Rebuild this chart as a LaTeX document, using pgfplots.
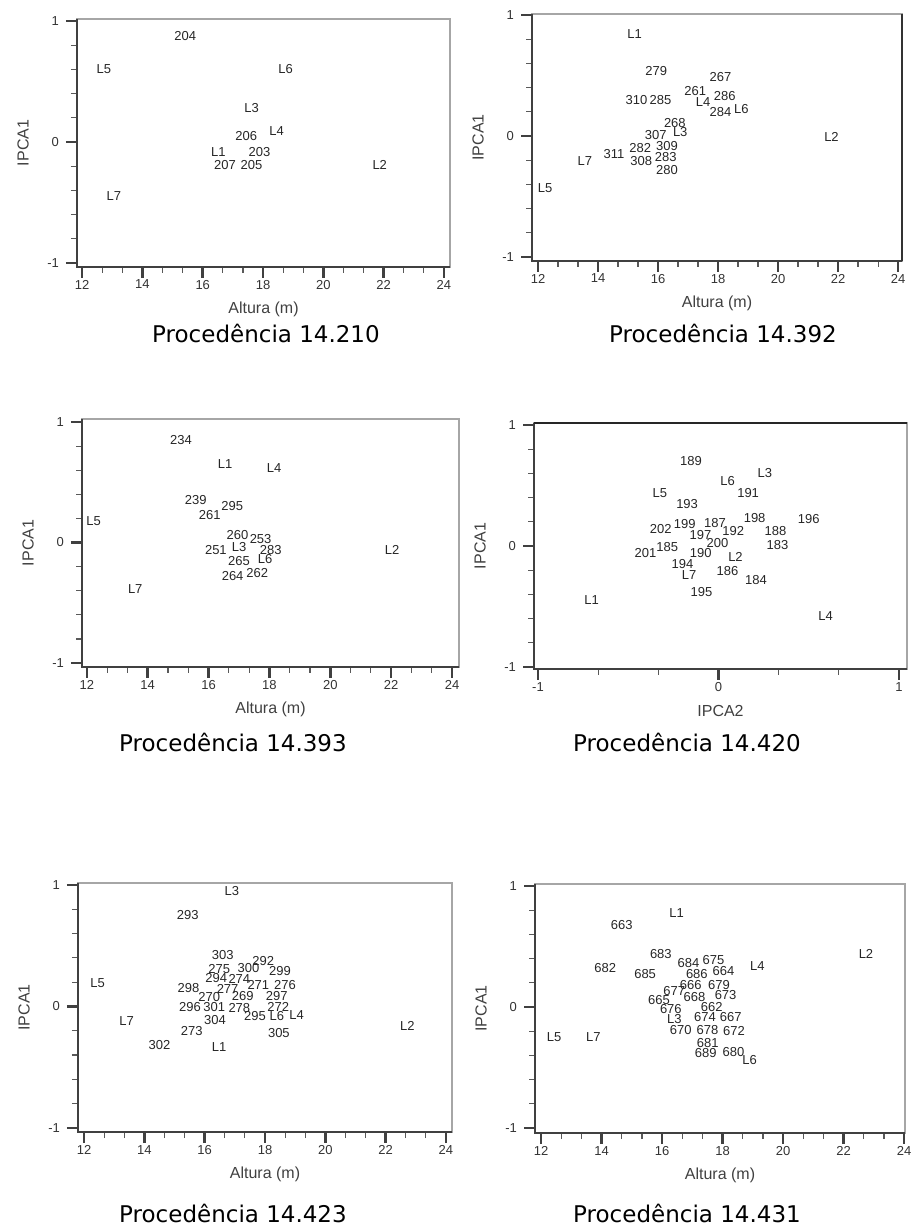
\documentclass[border=0pt]{standalone}
\usepackage{fontspec}
\setmainfont{Liberation Sans}
\newfontfamily\titlefont{DejaVu Sans}
\usepackage{pgfplots}
\pgfplotsset{compat=1.18}

% one panel = one axis, label-only scatter (no marks)
\pgfplotsset{
  panel/.style={
    scale only axis, anchor=south west,
    xmin=11.8, xmax=24.2, ymin=-1.03, ymax=1.02,
    xtick={12,14,...,24}, minor x tick num=2,
    ytick={-1,0,1}, minor y tick num=4,
    tick align=outside, xtick pos=left, ytick pos=left,
    major tick length=5.5pt, minor tick length=3pt,
    every major tick/.append style={line width=1.3pt, black!75},
    every minor tick/.append style={line width=0.6pt, black!65},
    axis line style={gray!70, line width=0.7pt},
    tick label style={font=\fontsize{6.5}{7}\selectfont, text=black!80},
    xticklabel style={yshift=2.5pt},
    /pgf/number format/assume math mode=true,
    xlabel={Altura (m)}, ylabel={IPCA1},
    every axis x label/.style={at={([yshift=-21pt]axis description cs:0.5,0)}, anchor=center,
      font=\fontsize{8}{9}\selectfont, text=black!75},
    every axis y label/.style={at={([xshift=-27pt]axis description cs:0,0.5)}, anchor=center, rotate=90,
      font=\fontsize{8}{9}\selectfont, text=black!75},
    extra description/.code={\draw[black!75, line width=1pt] (0,1)--(0,0)--(1,0);},
  },
  lbl/.style={draw=none, mark=none, nodes near coords, point meta=explicit symbolic,
    every node near coord/.style={anchor=center, font=\fontsize{6.5}{7}\selectfont,
      text=black!85, inner sep=0pt}},
}

\begin{document}
\begin{tikzpicture}
\path[use as bounding box] (0,0) rectangle (455pt,615pt);

% Procedencia 14.210
\begin{axis}[panel, at={(38.5pt,481.5pt)}, width=186.5pt, height=124pt,
  xmin=11.83, xmax=24.2, ymin=-1.033, ymax=1.017]
\addplot[lbl] table[meta=l] {
x y l
15.42 0.88 204
12.72 0.60 L5
18.75 0.60 L6
17.62 0.28 L3
18.45 0.09 L4
17.44 0.05 206
16.52 -0.08 L1
17.88 -0.08 203
16.74 -0.19 207
17.62 -0.19 205
21.87 -0.19 L2
13.05 -0.45 L7
};
\end{axis}
\node[font=\titlefont\fontsize{11.5}{13}\selectfont, anchor=base] at (133pt,443.5pt) {Procedência 14.210};

% Procedencia 14.392
\begin{axis}[panel, at={(266pt,484.5pt)}, width=185pt, height=123.5pt,
  xmin=11.8, xmax=24.13, ymin=-1.033, ymax=1.008,
  extra description/.append code={\draw[black!80, line width=1.2pt] (1,0)--(1,1);}]
\addplot[lbl] table[meta=l] {
x y l
15.22 0.84 L1
15.94 0.54 279
18.08 0.49 267
17.24 0.37 261
18.22 0.33 286
15.28 0.30 310
16.08 0.30 285
17.50 0.28 L4
18.08 0.20 284
18.78 0.22 L6
16.56 0.11 268
15.92 0.01 307
16.74 0.03 L3
16.30 -0.08 309
15.41 -0.10 282
14.53 -0.15 311
16.26 -0.17 283
15.44 -0.21 308
13.56 -0.21 L7
16.30 -0.28 280
21.78 -0.01 L2
12.24 -0.43 L5
};
\end{axis}
\node[font=\titlefont\fontsize{11.5}{13}\selectfont, anchor=base] at (361.5pt,443.5pt) {Procedência 14.392};

% Procedencia 14.393
\begin{axis}[panel, at={(41pt,281.5pt)}, width=188.5pt, height=124pt,
  xmin=11.84, xmax=24.23, ymin=-1.033, ymax=1.025]
\addplot[lbl] table[meta=l] {
x y l
15.09 0.85 234
16.54 0.65 L1
18.15 0.62 L4
15.58 0.35 239
16.78 0.30 295
16.04 0.23 261
12.22 0.18 L5
16.95 0.06 260
17.71 0.03 253
16.24 -0.06 251
17.00 -0.04 L3
18.04 -0.06 283
17.00 -0.15 265
17.86 -0.14 L6
17.60 -0.25 262
16.79 -0.28 264
13.59 -0.39 L7
22.03 -0.06 L2
};
\end{axis}
\node[font=\titlefont\fontsize{11.5}{13}\selectfont, anchor=base] at (116.5pt,239pt) {Procedência 14.393};

% Procedencia 14.420
\begin{axis}[panel, at={(267pt,280.5pt)}, width=186.5pt, height=123pt,
  xmin=-1.022, xmax=1.044, ymin=-1.017, ymax=1.017,
  xtick={-1,0,1}, minor x tick num=2, xlabel={IPCA2},
  extra description/.append code={\draw[black!85, line width=1.3pt] (0,1)--(1,1);}]
\addplot[lbl] table[meta=l] {
x y l
-0.153 0.70 189
0.257 0.60 L3
0.050 0.54 L6
-0.325 0.44 L5
0.164 0.44 191
-0.174 0.35 193
-0.187 0.185 199
-0.020 0.19 187
0.200 0.23 198
0.500 0.22 196
-0.320 0.14 202
0.081 0.12 192
0.316 0.12 188
-0.100 0.09 197
-0.006 0.025 200
0.327 0.005 183
-0.404 -0.06 201
-0.284 -0.01 185
-0.098 -0.055 190
0.094 -0.09 L2
-0.200 -0.15 194
-0.163 -0.24 L7
0.050 -0.21 186
0.207 -0.28 184
-0.094 -0.38 195
-0.703 -0.445 L1
0.593 -0.58 L4
};
\end{axis}
\node[font=\titlefont\fontsize{11.5}{13}\selectfont, anchor=base] at (343.5pt,239pt) {Procedência 14.420};

% Procedencia 14.423
\begin{axis}[panel, at={(39pt,49pt)}, width=187pt, height=124.5pt,
  xmin=11.8, xmax=24.2, ymin=-1.033, ymax=1.016]
\addplot[lbl] table[meta=l] {
x y l
16.90 0.95 L3
15.44 0.75 293
16.60 0.42 303
17.94 0.375 292
16.48 0.31 275
17.45 0.32 300
18.50 0.29 299
12.45 0.19 L5
16.38 0.23 294
17.15 0.23 274
17.78 0.18 271
18.66 0.18 276
15.46 0.15 298
16.76 0.14 277
16.15 0.08 270
17.26 0.09 269
18.39 0.09 297
15.51 -0.005 296
16.32 -0.005 301
17.15 -0.01 278
18.44 0.00 272
19.05 -0.07 L4
17.67 -0.08 295
18.39 -0.08 L6
16.34 -0.11 304
13.41 -0.12 L7
15.57 -0.20 273
18.46 -0.22 305
14.50 -0.32 302
16.48 -0.33 L1
22.72 -0.16 L2
};
\end{axis}
\node[font=\titlefont\fontsize{11.5}{13}\selectfont, anchor=base] at (116.5pt,3.5pt) {Procedência 14.423};

% Procedencia 14.431
\begin{axis}[panel, at={(267.5pt,48.5pt)}, width=185pt, height=124.5pt,
  xmin=11.8, xmax=24.03, ymin=-1.041, ymax=1.017]
\addplot[lbl] table[meta=l] {
x y l
16.48 0.78 L1
14.67 0.68 663
15.96 0.44 683
22.74 0.44 L2
16.87 0.36 684
17.70 0.39 675
19.15 0.34 L4
14.12 0.32 682
15.44 0.27 685
17.15 0.27 686
18.03 0.30 664
16.95 0.18 666
17.88 0.18 679
16.40 0.13 677
18.10 0.10 673
17.07 0.08 668
15.90 0.06 665
17.64 0.00 662
16.29 -0.02 676
16.41 -0.10 L3
17.42 -0.08 674
18.27 -0.08 667
16.62 -0.19 670
17.50 -0.19 678
18.38 -0.20 672
12.43 -0.25 L5
13.73 -0.25 L7
17.51 -0.30 681
17.44 -0.38 689
18.36 -0.37 680
18.89 -0.44 L6
};
\end{axis}
\node[font=\titlefont\fontsize{11.5}{13}\selectfont, anchor=base] at (343.5pt,3.5pt) {Procedência 14.431};

\end{tikzpicture}
\end{document}
